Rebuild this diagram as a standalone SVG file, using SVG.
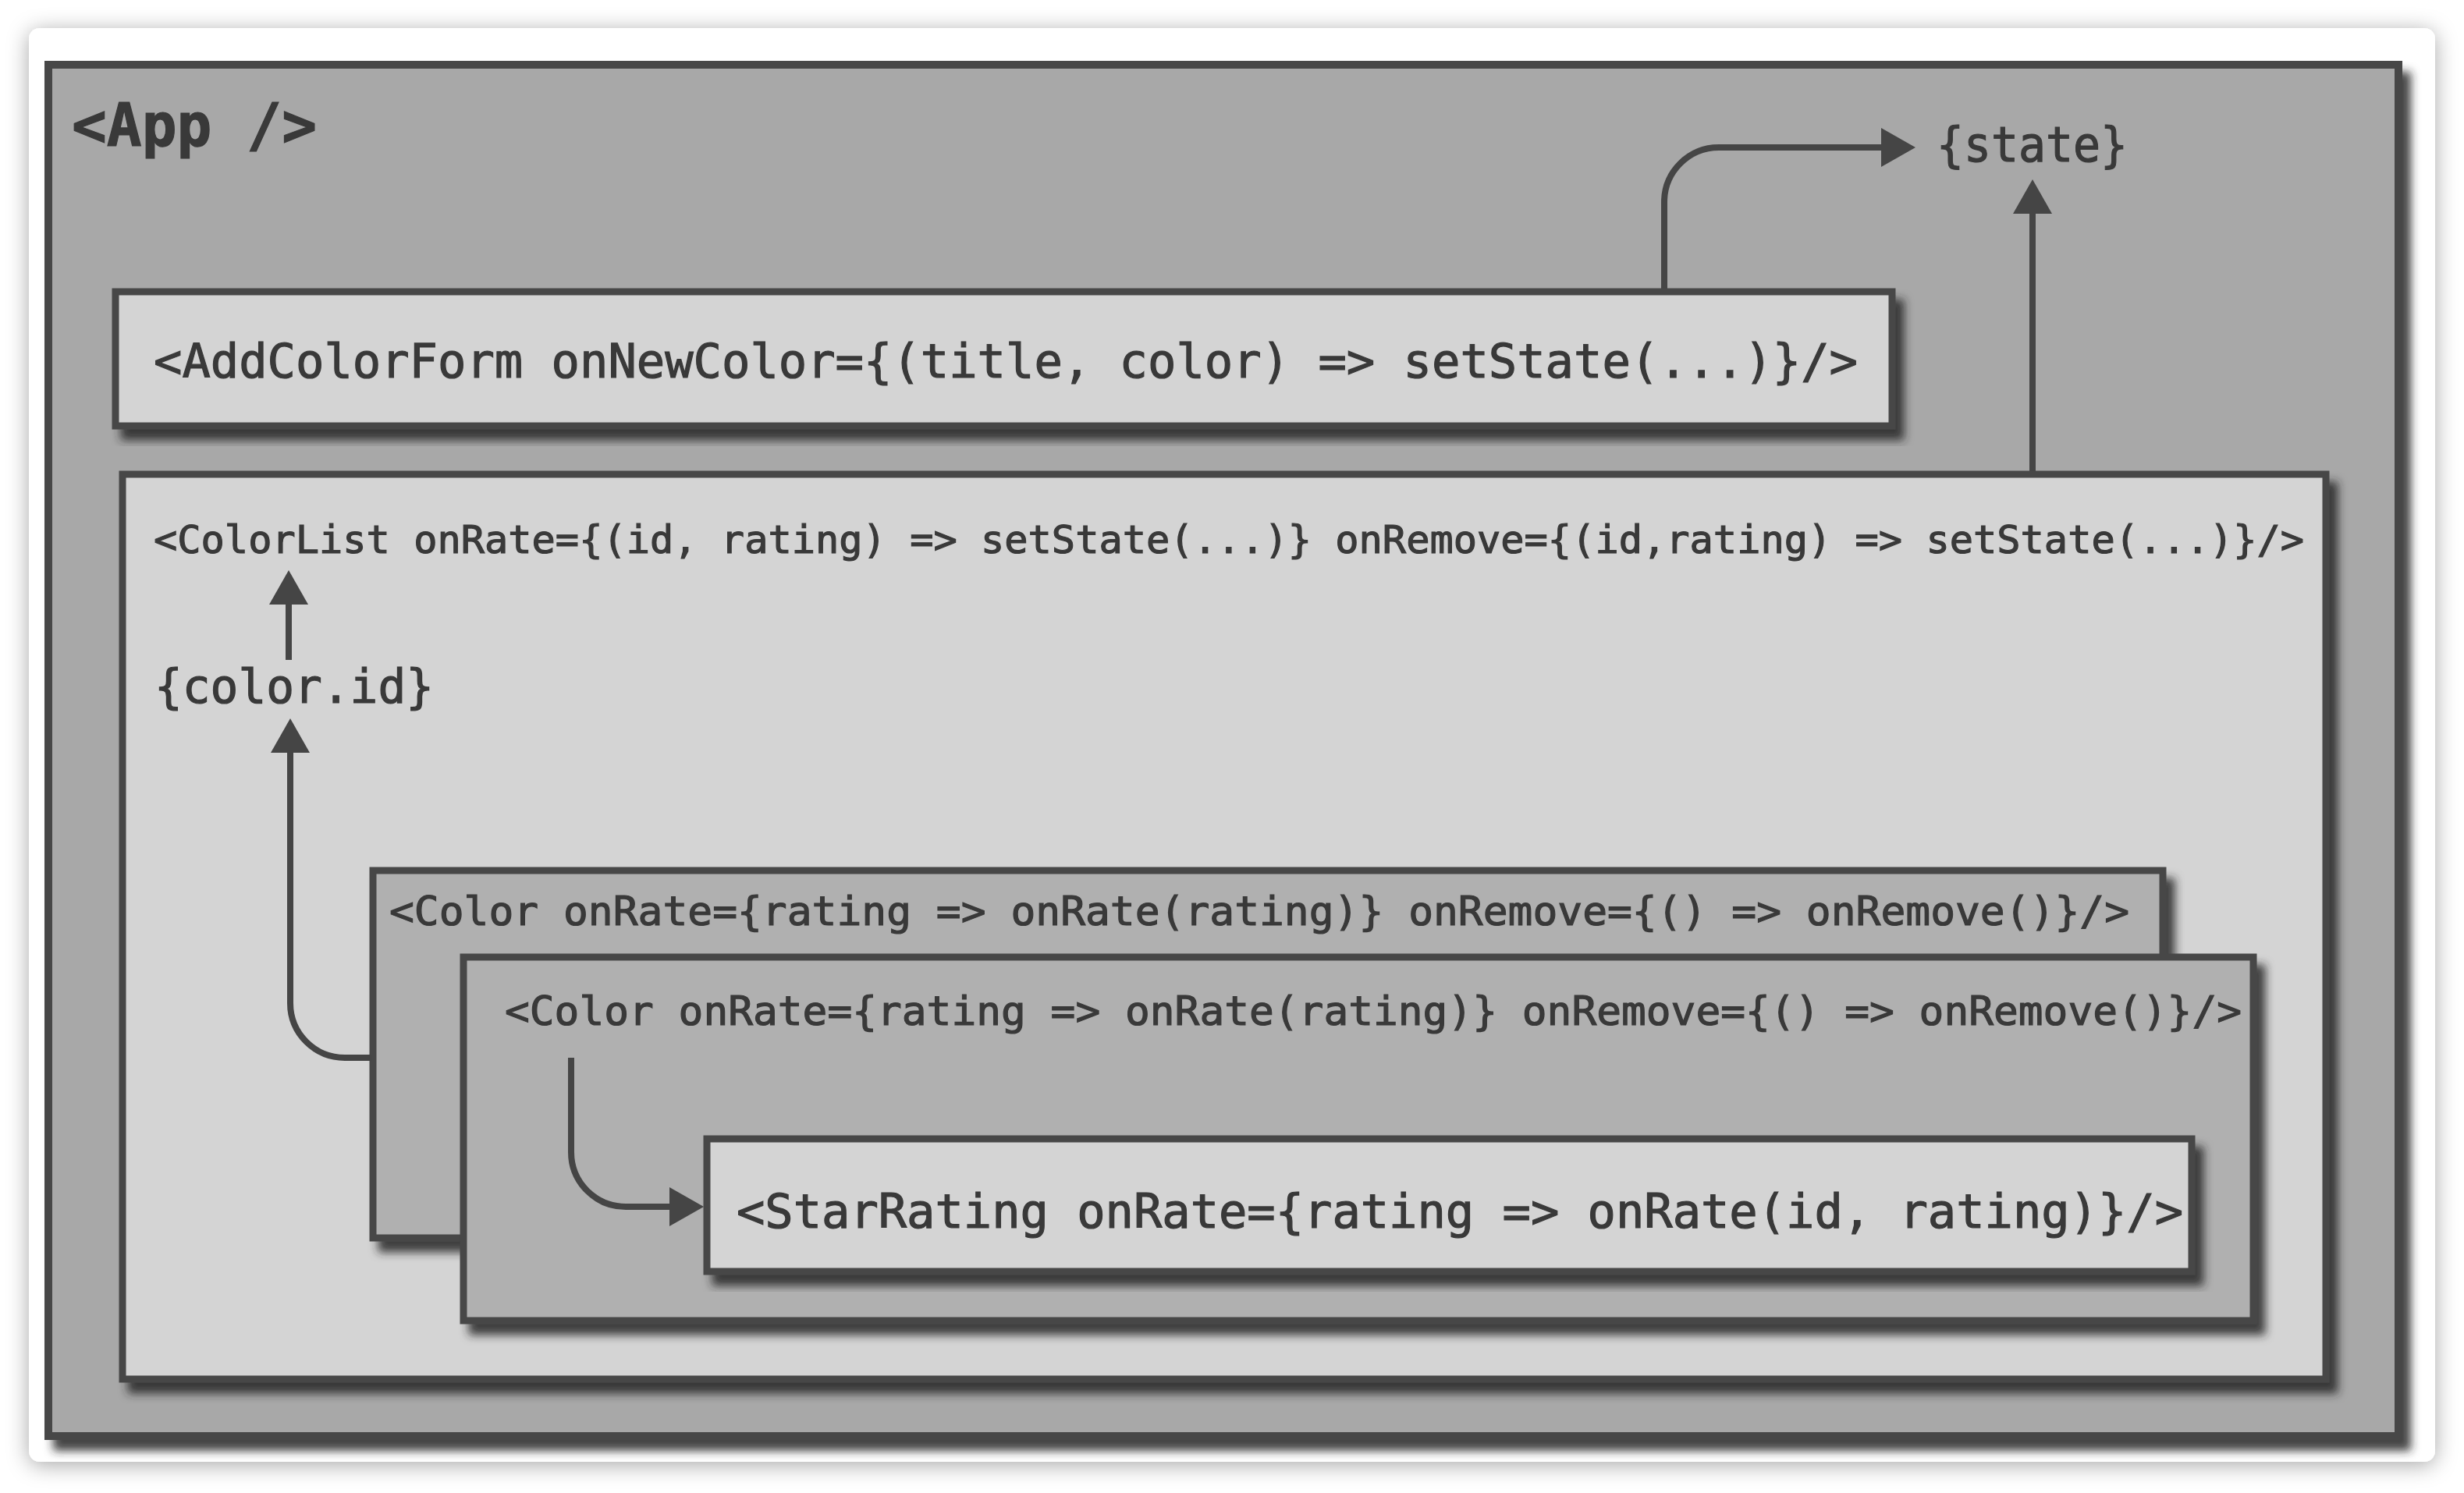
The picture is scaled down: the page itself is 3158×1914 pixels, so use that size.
<svg xmlns="http://www.w3.org/2000/svg" width="3158" height="1914" viewBox="0 0 3158 1914">
  <defs>
    <filter id="cardShadow" x="-5%" y="-5%" width="110%" height="110%">
      <feDropShadow dx="0" dy="4" stdDeviation="14" flood-color="#000" flood-opacity="0.35"/>
    </filter>
    <filter id="boxShadow" x="-5%" y="-10%" width="110%" height="125%">
      <feDropShadow dx="11" dy="14" stdDeviation="6" flood-color="#262626" flood-opacity="0.85"/>
    </filter>
    <marker id="head" viewBox="0 0 44 50" refX="0" refY="25" markerWidth="44" markerHeight="50" markerUnits="userSpaceOnUse" orient="auto">
      <path d="M0,0 L44,25 L0,50 z" fill="#454545"/>
    </marker>
  </defs>
  <style>
    .box { stroke: #474747; stroke-width: 9; filter: url(#boxShadow); }
    .light { fill: #d4d4d4; }
    .mid { fill: #b0b0b0; }
    .app { fill: #a8a8a8; stroke: #474747; stroke-width: 10; filter: url(#boxShadow); }
    .code { font-family: "DejaVu Sans Mono", "Liberation Mono", monospace; fill: #393939; stroke: #393939; stroke-width: 1.2; }
    .wire { fill: none; stroke: #454545; stroke-width: 8; marker-end: url(#head); }
  </style>

  <rect width="3158" height="1914" fill="#ffffff"/>
  <!-- paper card -->
  <rect x="37" y="36" width="3084" height="1838" rx="14" fill="#ffffff" filter="url(#cardShadow)"/>

  <g id="app">
    <rect class="app" x="62" y="83" width="3012" height="1758"/>
    <text class="code" x="92" y="187" font-size="76" font-weight="bold" textLength="314" lengthAdjust="spacingAndGlyphs">&lt;App /&gt;</text>
    <text class="code" x="2482" y="207" font-size="63" textLength="245" lengthAdjust="spacingAndGlyphs">{state}</text>
  </g>

  <g id="add-color-form">
    <rect class="box light" x="148" y="374" width="2277" height="172"/>
    <text class="code" x="197" y="484" font-size="60" textLength="2184" lengthAdjust="spacingAndGlyphs">&lt;AddColorForm onNewColor={(title, color) =&gt; setState(...)}/&gt;</text>
  </g>

  <g id="color-list">
    <rect class="box light" x="157" y="608" width="2824" height="1160"/>
    <text class="code" x="197" y="709" font-size="50" textLength="2756" lengthAdjust="spacingAndGlyphs">&lt;ColorList onRate={(id, rating) =&gt; setState(...)} onRemove={(id,rating) =&gt; setState(...)}/&gt;</text>
    <text class="code" x="198" y="901" font-size="60" textLength="358" lengthAdjust="spacingAndGlyphs">{color.id}</text>
  </g>

  <g id="color-1">
    <rect class="box mid" x="478" y="1116" width="2294" height="471"/>
    <text class="code" x="499" y="1186" font-size="52" textLength="2230" lengthAdjust="spacingAndGlyphs">&lt;Color onRate={rating =&gt; onRate(rating)} onRemove={() =&gt; onRemove()}/&gt;</text>
  </g>

  <g id="color-2">
    <rect class="box mid" x="594" y="1227" width="2294" height="466"/>
    <text class="code" x="647" y="1314" font-size="52" textLength="2226" lengthAdjust="spacingAndGlyphs">&lt;Color onRate={rating =&gt; onRate(rating)} onRemove={() =&gt; onRemove()}/&gt;</text>
  </g>

  <g id="star-rating">
    <rect class="box light" x="906" y="1460" width="1903" height="170"/>
    <text class="code" x="944" y="1574" font-size="60" textLength="1854" lengthAdjust="spacingAndGlyphs">&lt;StarRating onRate={rating =&gt; onRate(id, rating)}/&gt;</text>
  </g>

  <g id="connectors">
    <!-- AddColorForm callback sets state -->
    <path class="wire" d="M2133,370 V259 A70,70 0 0 1 2203,189 H2411"/>
    <!-- ColorList callbacks set state -->
    <path class="wire" d="M2605,604 V274"/>
    <!-- color id passed up to ColorList -->
    <path class="wire" d="M370,846 V775"/>
    <!-- Color reports back with its id -->
    <path class="wire" d="M476,1356 H442 A70,70 0 0 1 372,1286 V965"/>
    <!-- Color hands its rating callback to StarRating -->
    <path class="wire" d="M732,1356 V1477 A70,70 0 0 0 802,1547 H858"/>
  </g>
</svg>
